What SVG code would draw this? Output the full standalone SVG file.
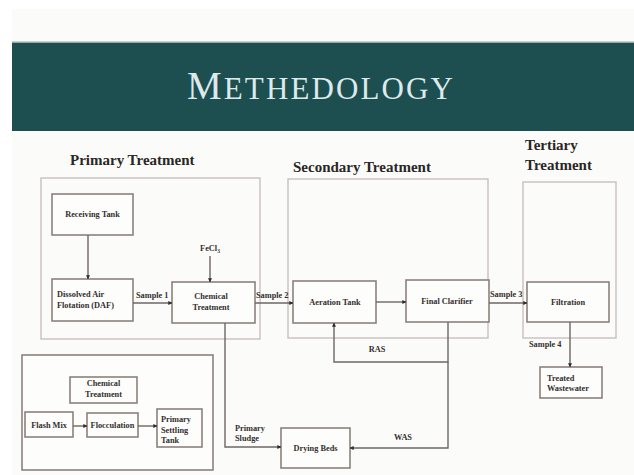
<svg xmlns="http://www.w3.org/2000/svg" width="634" height="475" viewBox="0 0 634 475">
<defs>
<style>
.sec{fill:none;stroke:#c4bcb9;stroke-width:1.3}
.node{fill:#fdfdfb;stroke:#8c817e;stroke-width:1.6}
.t{font-family:"Liberation Serif","Times New Roman",serif;font-weight:bold;font-size:8.3px;fill:#332e2e}
.tc{text-anchor:middle}
.h{font-family:"Liberation Serif","Times New Roman",serif;font-weight:bold;font-size:15px;fill:#2a2626}
.c{fill:none;stroke:#6f6664;stroke-width:1.4}
</style>
<marker id="ah" viewBox="0 0 6 6" refX="5.5" refY="3" markerWidth="4" markerHeight="4" orient="auto" markerUnits="userSpaceOnUse">
<path d="M0,0 L6,3 L0,6 z" fill="#2e2a2a"/>
</marker>
</defs>
<rect x="0" y="0" width="634" height="475" fill="#ffffff"/>
<rect x="12" y="9" width="622" height="466" fill="#fbfcf9"/>
<rect x="12" y="41.5" width="622" height="2" fill="#9aa8a8"/>
<rect x="12" y="43" width="622" height="88" fill="#1d4f51"/>
<text x="320" y="99" text-anchor="middle" textLength="266" lengthAdjust="spacing" font-family="'Liberation Serif','Times New Roman',serif" fill="#dde9ea"><tspan font-size="39">M</tspan><tspan font-size="31">ETHEDOLOGY</tspan></text>

<text class="h" x="70" y="165">Primary Treatment</text>
<text class="h" x="293" y="172">Secondary Treatment</text>
<text class="h" x="525" y="150">Tertiary</text>
<text class="h" x="525" y="170">Treatment</text>

<rect class="sec" x="41" y="178" width="219" height="161"/>
<rect class="sec" x="288" y="179" width="200" height="159"/>
<rect class="sec" x="523" y="182" width="93" height="156"/>

<g id="receiving-tank"><rect class="node" x="52" y="194" width="81" height="41"/><text class="t tc" x="92.5" y="217">Receiving Tank</text></g>
<g id="daf"><rect class="node" x="52" y="279" width="81" height="42"/><text class="t" x="57" y="297">Dissolved Air</text><text class="t" x="57" y="308">Flotation (DAF)</text></g>
<g id="chemical-treatment"><rect class="node" x="172" y="282" width="83" height="41"/><text class="t tc" x="211" y="299">Chemical</text><text class="t tc" x="211" y="310">Treatment</text></g>
<g id="aeration-tank"><rect class="node" x="293" y="281" width="83" height="42"/><text class="t tc" x="335" y="305">Aeration Tank</text></g>
<g id="final-clarifier"><rect class="node" x="406" y="280" width="83" height="42"/><text class="t tc" x="447" y="304">Final Clarifier</text></g>
<g id="filtration"><rect class="node" x="527" y="282" width="82" height="40"/><text class="t tc" x="568" y="305">Filtration</text></g>
<g id="treated-wastewater"><rect class="node" x="540" y="367" width="62" height="31"/><text class="t" x="547" y="381">Treated</text><text class="t" x="547" y="391">Wastewater</text></g>
<g id="drying-beds"><rect class="node" x="281" y="428" width="69" height="40"/><text class="t tc" x="315.5" y="451">Drying Beds</text></g>

<g id="chemical-detail">
<rect class="node" x="22" y="355" width="191" height="115"/>
<g id="ct2"><rect class="node" x="70" y="377" width="67" height="26"/><text class="t tc" x="103.5" y="386">Chemical</text><text class="t tc" x="103.5" y="397">Treatment</text></g>
<g id="flash-mix"><rect class="node" x="25" y="412" width="48" height="25"/><text class="t tc" x="49" y="428">Flash Mix</text></g>
<g id="flocculation"><rect class="node" x="87" y="413" width="51" height="24"/><text class="t tc" x="112.5" y="428">Flocculation</text></g>
<g id="primary-settling"><rect class="node" x="157" y="409" width="45" height="38"/><text class="t" x="161" y="422">Primary</text><text class="t" x="161" y="433">Settling</text><text class="t" x="161" y="443">Tank</text></g>
</g>

<g id="connectors">
<line class="c" x1="88" y1="235" x2="88" y2="279" marker-end="url(#ah)"/>
<line class="c" x1="133" y1="303" x2="172" y2="303" marker-end="url(#ah)"/>
<line class="c" x1="210" y1="256" x2="210" y2="282" marker-end="url(#ah)"/>
<line class="c" x1="255" y1="303" x2="293" y2="303" marker-end="url(#ah)"/>
<line class="c" x1="376" y1="302" x2="406" y2="302" marker-end="url(#ah)"/>
<line class="c" x1="489" y1="303" x2="527" y2="303" marker-end="url(#ah)"/>
<line class="c" x1="570" y1="322" x2="570" y2="367" marker-end="url(#ah)"/>
<polyline class="c" points="448,322 448,362 334,362 334,323" marker-end="url(#ah)"/>
<polyline class="c" points="448,362 448,448 350,448" marker-end="url(#ah)"/>
<polyline class="c" points="225,323 225,447 281,447" marker-end="url(#ah)"/>
<line class="c" x1="73" y1="426" x2="87" y2="426" marker-end="url(#ah)"/>
<line class="c" x1="138" y1="426" x2="157" y2="426" marker-end="url(#ah)"/>
<text class="t" x="136" y="298">Sample 1</text>
<text class="t" x="256" y="298">Sample 2</text>
<text class="t" x="490" y="297">Sample 3</text>
<text class="t" x="529" y="347">Sample 4</text>
<text class="t tc" x="210" y="251">FeCl<tspan font-size="5.5" dy="1.5">3</tspan></text>
<text class="t tc" x="377" y="352">RAS</text>
<text class="t tc" x="403" y="440">WAS</text>
<text class="t" x="235" y="431">Primary</text>
<text class="t" x="235" y="441">Sludge</text>
</g>
</svg>
